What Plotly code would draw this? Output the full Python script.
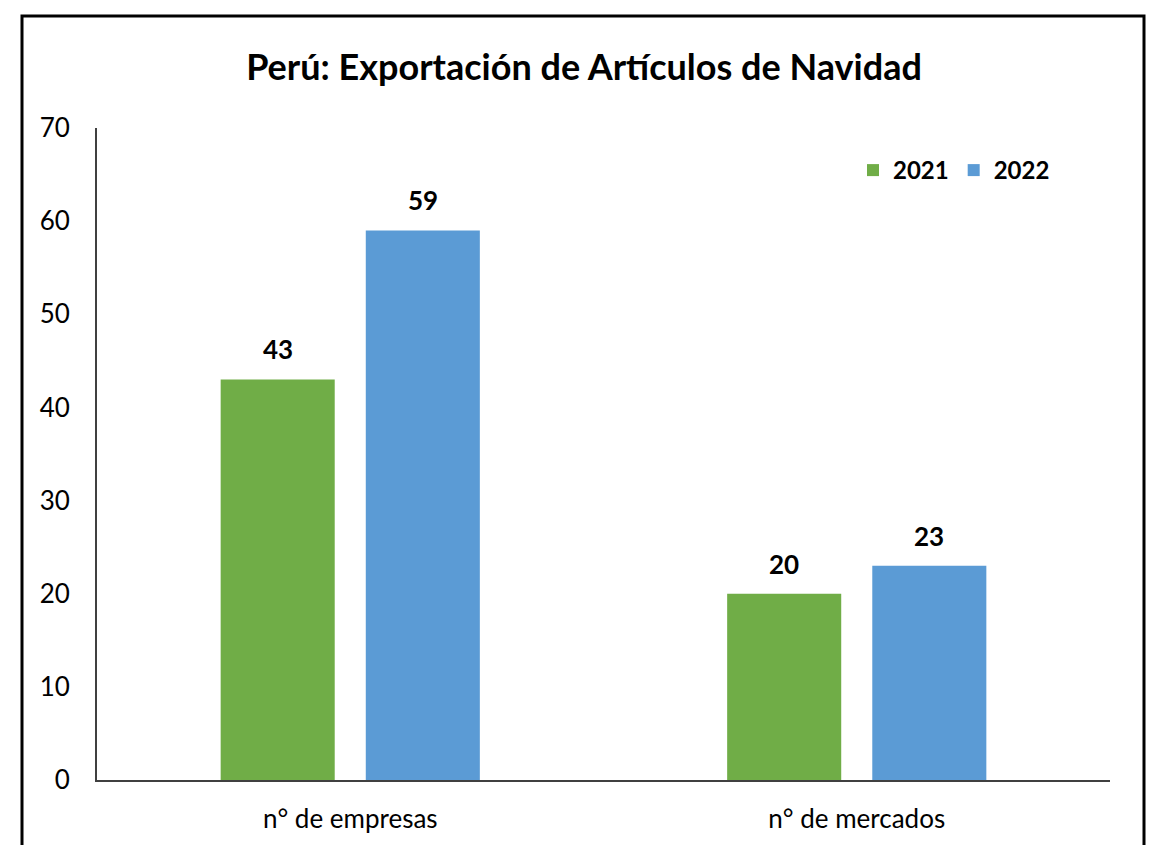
import plotly.graph_objects as go

categories = ["n° de empresas", "n° de mercados"]
years = ["2021", "2022"]
values_2021 = [43, 20]
values_2022 = [59, 23]
colors = {"2021": "#70AD47", "2022": "#5B9BD5"}
y_ticks = [0, 10, 20, 30, 40, 50, 60, 70]

FONT = "Lato, Carlito, Calibri, sans-serif"

# page is offset by the 8px body margin
OFF = 8
W, H = 1155 - OFF, 845 - OFF
L, R, T, B = 97 - OFF, 1110 - OFF, 128 - OFF, 780 - OFF
pw, ph = R - L, B - T


def px(x):
    return (x - OFF - L) / pw


def py(y):
    return (B - (y - OFF)) / ph


fig = go.Figure()
bar_half_step = 72.5  # px from category centre to bar centre
for i, (yr, vals) in enumerate(zip(years, [values_2021, values_2022])):
    fig.add_trace(go.Bar(
        x=categories, y=vals, name=yr,
        marker=dict(color=colors[yr], line=dict(width=0)),
    ))
    for cat, v in zip(categories, vals):
        fig.add_annotation(
            x=cat, y=v, xref="x", yref="y", text=f"<b>{v}</b>", showarrow=False,
            xshift=(-1 if i == 0 else 1) * bar_half_step, yshift=30,
            yanchor="middle", xanchor="center",
            font=dict(family=FONT, size=26, color="black"),
        )

fig.add_shape(type="rect", xref="paper", yref="paper",
              x0=px(22), x1=px(1144), y0=py(870), y1=py(16),
              line=dict(color="black", width=3), fillcolor="rgba(0,0,0,0)", layer="below")

fig.update_layout(
    width=W, height=H,
    margin=dict(l=L, r=W - R, t=T, b=H - B, pad=0, autoexpand=False),
    paper_bgcolor="white", plot_bgcolor="white",
    barmode="group", bargap=0.427, bargroupgap=0.214,
    title=dict(text="<b>Perú: Exportación de Artículos de Navidad</b>",
               xref="paper", x=px(584), xanchor="center",
               yref="container", y=1 - (67 - OFF) / H, yanchor="middle",
               font=dict(family=FONT, size=36, color="black")),
    legend=dict(orientation="h", x=px(853), xanchor="left", y=py(148), yanchor="top",
                font=dict(family=FONT, size=24, color="black", weight="bold"),
                itemwidth=30, traceorder="normal", bgcolor="rgba(0,0,0,0)"),
    font=dict(family=FONT, color="black"),
    showlegend=True,
)
fig.update_yaxes(range=[0, 70], tickvals=y_ticks, showgrid=False, zeroline=False,
                 showline=True, linecolor="#404040", linewidth=2, automargin=False,
                 ticks="", ticklabelstandoff=20,
                 tickfont=dict(family=FONT, size=26, color="black"))
fig.update_xaxes(showgrid=False, showline=True, linecolor="#404040", linewidth=2,
                 automargin=False, ticks="", ticklabelstandoff=15,
                 tickfont=dict(family=FONT, size=26, color="black"))

fig.write_html("out.html")
